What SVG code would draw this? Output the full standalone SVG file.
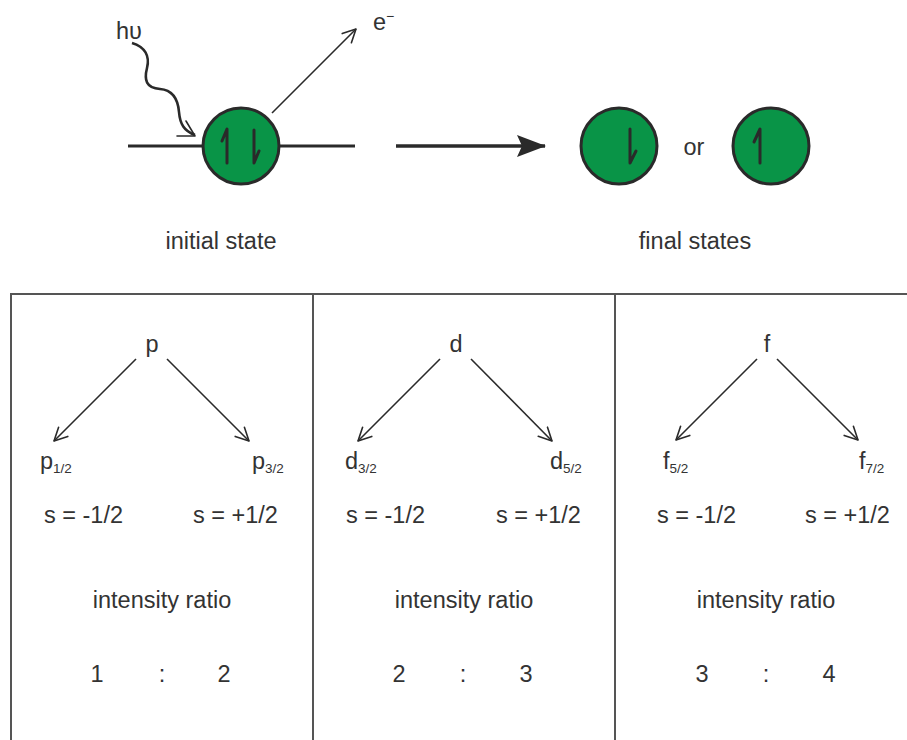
<svg xmlns="http://www.w3.org/2000/svg" width="907" height="740" viewBox="0 0 907 740">
<defs>
<style>
text{font-family:"Liberation Sans",Arial,sans-serif;fill:#333;}
.t{font-size:23.5px;}
.big{font-size:23.5px;text-anchor:middle;}
.sub{font-size:13.5px;}
.ln{stroke:#2a2a2a;fill:none;}
.frame{stroke:#555;stroke-width:2;fill:none;}
.orb{fill:#099447;stroke:#2a2a2a;stroke-width:3;}
.spin{stroke:#2a2a2a;stroke-width:3;fill:none;stroke-linecap:round;stroke-linejoin:round;}
.arr{stroke:#2a2a2a;stroke-width:1.6;fill:none;}
.head{stroke:#2a2a2a;stroke-width:1.6;fill:none;stroke-linecap:round;stroke-linejoin:round;}
</style>
<marker id="open" viewBox="0 0 16 16" refX="15" refY="8" markerWidth="16" markerHeight="16" markerUnits="userSpaceOnUse" orient="auto">
<path d="M2,1.5 L15,8 L2,14.5" class="head"/>
</marker>
<marker id="solid" viewBox="0 0 30 22" refX="28" refY="11" markerWidth="30" markerHeight="22" markerUnits="userSpaceOnUse" orient="auto">
<path d="M0,0 L29,11 L0,22 L5,11 Z" fill="#2a2a2a"/>
</marker>
</defs>

<g id="frame">
<path class="frame" d="M11,740 V294 H907 M313,294 V740 M615,294 V740"/>
</g>

<g id="initial">
<line class="ln" x1="128" y1="146" x2="355" y2="146" stroke-width="3"/>
<circle class="orb" cx="241" cy="146" r="38"/>
<path class="spin" d="M227,163 V129 L222,141"/>
<path class="spin" d="M254,130 V163 L259,151"/>
<text class="big" x="221" y="249">initial state</text>
</g>

<g id="photon">
<text class="t" x="116" y="39">hυ</text>
</g>

<g id="electron">
<text class="t" x="373" y="30">e<tspan font-size="14" dy="-9">−</tspan></text>
</g>

<g id="final1">
<circle class="orb" cx="619" cy="146" r="38"/>
<path class="spin" d="M630,129 V163 L636,151"/>
</g>
<g id="or"><text class="big" x="694" y="155">or</text></g>
<g id="final2">
<circle class="orb" cx="771" cy="146" r="38"/>
<path class="spin" d="M760,163 V129 L754,142"/>
</g>
<g id="finallabel"><text class="big" x="695" y="249">final states</text></g>

<g id="connectors">
<path class="ln" stroke-width="2.6" d="M132,43 C145,47 150,56 147,68 C144,80 146,88 160,89 C173,90 178,100 179,112 C180,124 184,131 195,135"/>
<path class="head" stroke-width="2.6" d="M186,121 L195,136 L177,136"/>
<line class="arr" x1="272" y1="113" x2="356" y2="29" marker-end="url(#open)"/>
<line class="ln" stroke-width="3.5" x1="396" y1="146" x2="545" y2="146" marker-end="url(#solid)"/>
<line class="arr" x1="136" y1="359" x2="54" y2="441" marker-end="url(#open)"/>
<line class="arr" x1="167" y1="359" x2="249" y2="441" marker-end="url(#open)"/>
<line class="arr" x1="440" y1="359" x2="358" y2="441" marker-end="url(#open)"/>
<line class="arr" x1="471" y1="359" x2="552" y2="441" marker-end="url(#open)"/>
<line class="arr" x1="757" y1="359" x2="676" y2="440" marker-end="url(#open)"/>
<line class="arr" x1="777" y1="359" x2="858" y2="440" marker-end="url(#open)"/>
</g>

<g id="panel-p">
<text class="big" x="152" y="352">p</text>
<text class="t" x="40" y="469">p<tspan class="sub" dy="4">1/2</tspan></text>
<text class="t" x="252" y="469">p<tspan class="sub" dy="4">3/2</tspan></text>
<text class="t" x="44" y="523">s = -1/2</text>
<text class="t" x="193" y="523">s = +1/2</text>
<text class="big" x="162" y="608">intensity ratio</text>
<text class="big" x="97" y="682">1</text>
<text class="big" x="162" y="682">:</text>
<text class="big" x="224" y="682">2</text>
</g>

<g id="panel-d">
<text class="big" x="456" y="352">d</text>
<text class="t" x="345" y="469">d<tspan class="sub" dy="4">3/2</tspan></text>
<text class="t" x="550" y="469">d<tspan class="sub" dy="4">5/2</tspan></text>
<text class="t" x="346" y="523">s = -1/2</text>
<text class="t" x="496" y="523">s = +1/2</text>
<text class="big" x="464" y="608">intensity ratio</text>
<text class="big" x="399" y="682">2</text>
<text class="big" x="463" y="682">:</text>
<text class="big" x="526" y="682">3</text>
</g>

<g id="panel-f">
<text class="big" x="767" y="352">f</text>
<text class="t" x="663" y="469">f<tspan class="sub" dy="4">5/2</tspan></text>
<text class="t" x="859" y="469">f<tspan class="sub" dy="4">7/2</tspan></text>
<text class="t" x="657" y="523">s = -1/2</text>
<text class="t" x="805" y="523">s = +1/2</text>
<text class="big" x="766" y="608">intensity ratio</text>
<text class="big" x="702" y="682">3</text>
<text class="big" x="766" y="682">:</text>
<text class="big" x="829" y="682">4</text>
</g>
</svg>
